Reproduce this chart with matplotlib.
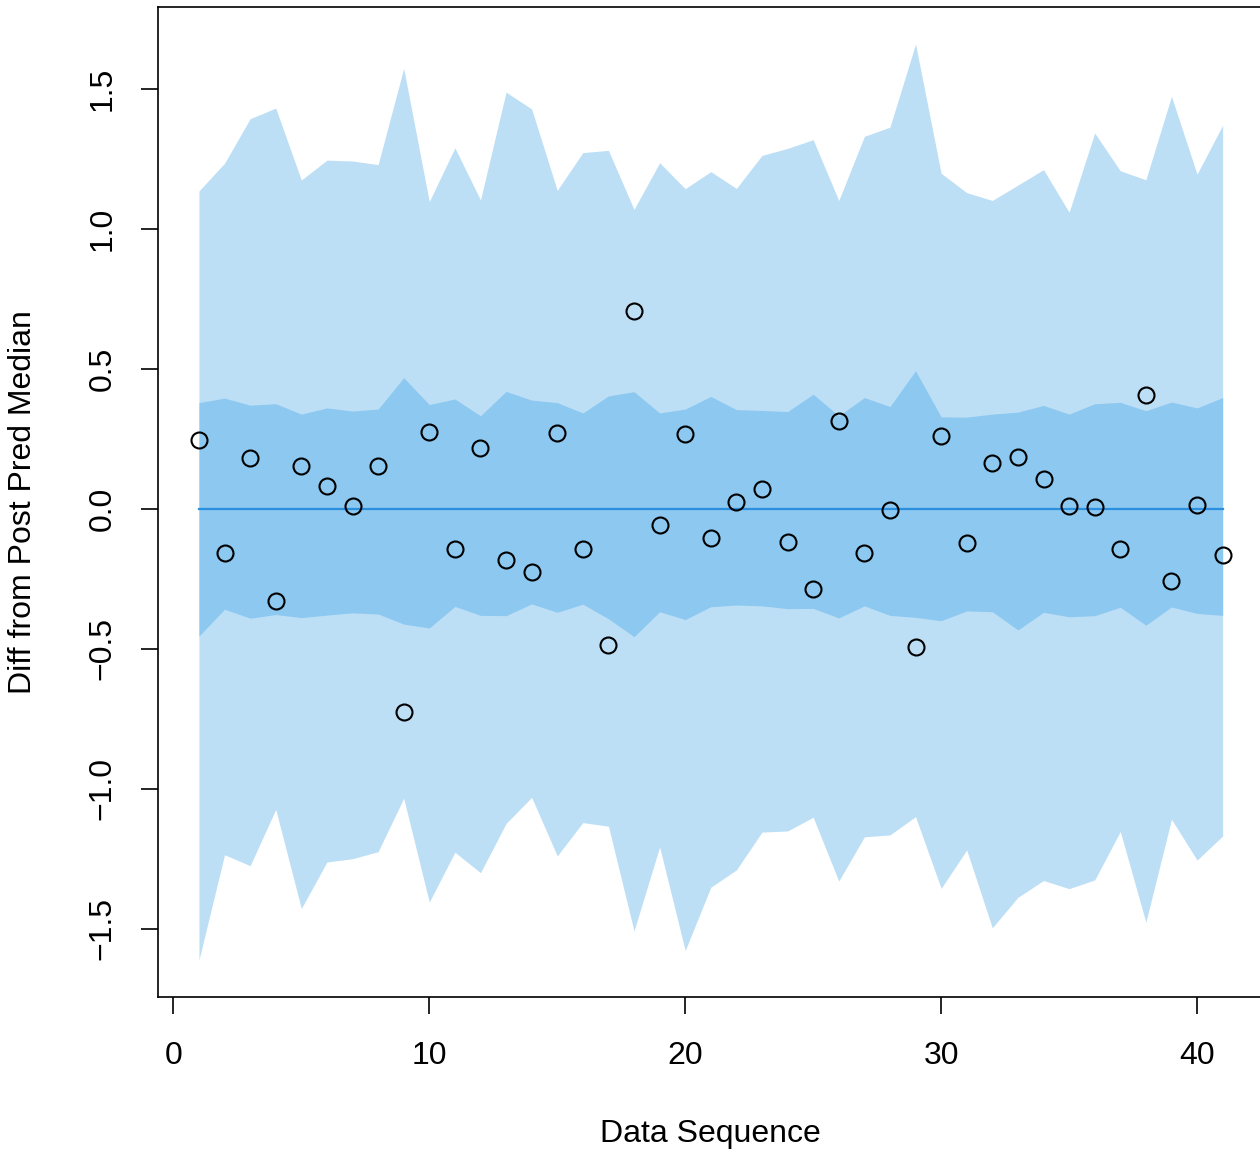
import numpy as np
import matplotlib.pyplot as plt

plt.rcParams['font.family'] = ['Liberation Sans', 'DejaVu Sans']

# data
seq = np.arange(1, 42)

outer_hi = [1.136, 1.235, 1.394, 1.432, 1.175, 1.246, 1.243, 1.230, 1.574, 1.098,
            1.290, 1.104, 1.489, 1.429, 1.138, 1.273, 1.281, 1.070, 1.237, 1.144,
            1.205, 1.145, 1.263, 1.288, 1.319, 1.102, 1.331, 1.364, 1.661, 1.199,
            1.130, 1.102, 1.157, 1.212, 1.060, 1.343, 1.208, 1.176, 1.474, 1.196,
            1.371]
outer_lo = [-1.611, -1.235, -1.274, -1.073, -1.427, -1.261, -1.249, -1.224, -1.033, -1.404,
            -1.226, -1.299, -1.123, -1.030, -1.239, -1.120, -1.133, -1.507, -1.207, -1.577,
            -1.351, -1.289, -1.154, -1.150, -1.101, -1.329, -1.171, -1.164, -1.099, -1.355,
            -1.218, -1.496, -1.387, -1.327, -1.356, -1.325, -1.152, -1.476, -1.108, -1.254,
            -1.168]
inner_hi = [0.380, 0.396, 0.371, 0.376, 0.339, 0.361, 0.350, 0.357, 0.469, 0.373,
            0.393, 0.333, 0.420, 0.389, 0.380, 0.343, 0.404, 0.419, 0.343, 0.357,
            0.402, 0.355, 0.352, 0.348, 0.410, 0.333, 0.398, 0.366, 0.494, 0.329,
            0.328, 0.339, 0.346, 0.370, 0.339, 0.376, 0.381, 0.351, 0.382, 0.361,
            0.398]
inner_lo = [-0.454, -0.358, -0.390, -0.377, -0.388, -0.379, -0.371, -0.375, -0.411, -0.425,
            -0.348, -0.380, -0.381, -0.339, -0.369, -0.340, -0.392, -0.456, -0.367, -0.395,
            -0.349, -0.343, -0.346, -0.356, -0.355, -0.389, -0.346, -0.380, -0.387, -0.399,
            -0.364, -0.367, -0.432, -0.369, -0.385, -0.381, -0.351, -0.415, -0.350, -0.373,
            -0.380]
diffs = [0.246, -0.156, 0.183, -0.327, 0.152, 0.082, 0.012, 0.154, -0.725, 0.274,
         -0.143, 0.217, -0.182, -0.224, 0.271, -0.144, -0.486, 0.707, -0.056, 0.268,
         -0.105, 0.025, 0.071, -0.119, -0.285, 0.313, -0.158, -0.002, -0.492, 0.262,
         -0.121, 0.163, 0.186, 0.106, 0.010, 0.008, -0.142, 0.407, -0.258, 0.013,
         -0.165]

fig = plt.figure(figsize=(12.6, 11.5), dpi=100)
ax = fig.add_axes([158 / 1260, 153 / 1150, 1105.6 / 1260, 990 / 1150])

ax.fill_between(seq, outer_lo, outer_hi, color='#bddff6', linewidth=0)
ax.fill_between(seq, inner_lo, inner_hi, color='#8dc8f0', linewidth=0)
ax.plot([seq[0], seq[-1]], [0, 0], color='#2b8fe0', linewidth=1.6)
ax.plot(seq, diffs, 'o', markerfacecolor='none', markeredgecolor='black',
        markersize=11.5, markeredgewidth=1.5)

ax.set_xlim(-0.6, 42.6)
ax.set_ylim(-1.743, 1.793)
ax.set_xticks([0, 10, 20, 30, 40])
ax.set_yticks([-1.5, -1.0, -0.5, 0.0, 0.5, 1.0, 1.5])
ax.set_yticklabels(['\u22121.5', '\u22121.0', '\u22120.5', '0.0', '0.5', '1.0', '1.5'],
                   rotation=90, va='center')
ax.tick_params(direction='out', length=12, width=1.2, labelsize=23)
ax.tick_params(axis='x', pad=20)
ax.tick_params(axis='y', pad=17)
for s in ax.spines.values():
    s.set_linewidth(1.2)

ax.set_xlabel('Data Sequence', fontsize=23, labelpad=34)
ax.set_ylabel('Diff from Post Pred Median', fontsize=23, labelpad=36)

fig.savefig('out.png', dpi=100)
